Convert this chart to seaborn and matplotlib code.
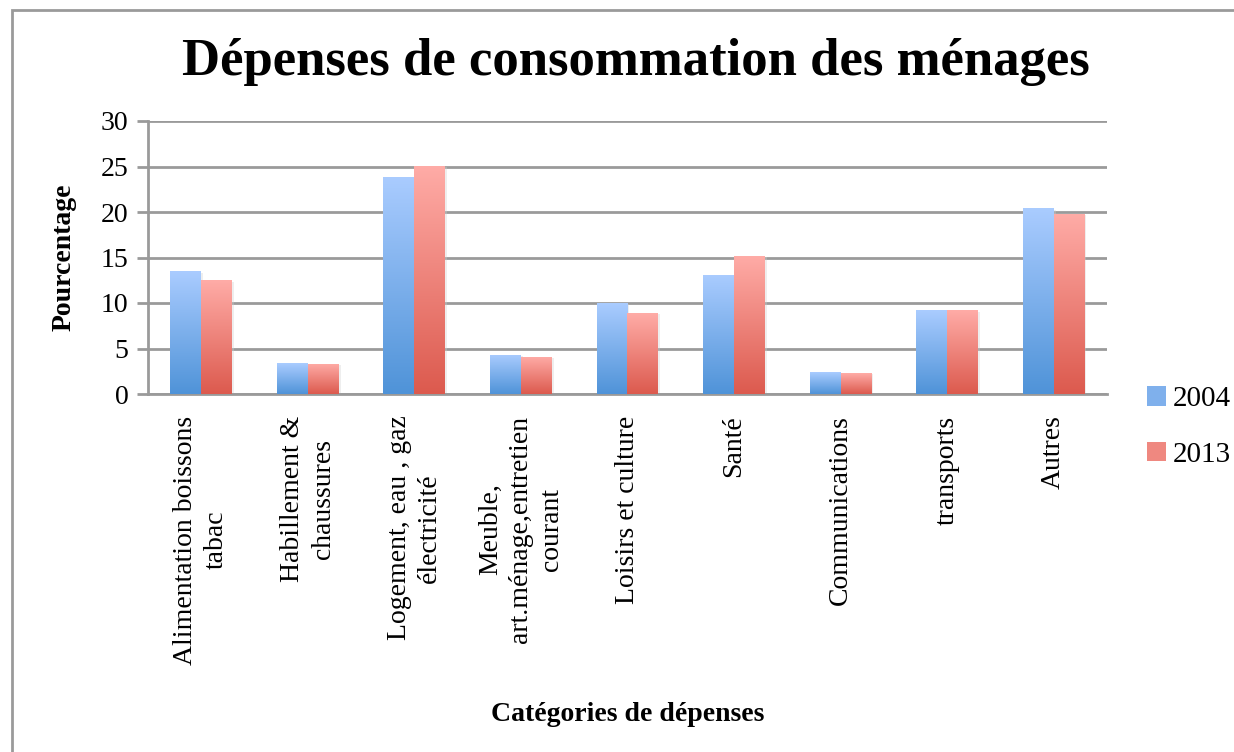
import matplotlib.pyplot as plt
import matplotlib.patches as mpatches
import numpy as np
import pandas as pd
import seaborn as sns
from matplotlib.colors import LinearSegmentedColormap

categories = ['Alimentation boissons\ntabac', 'Habillement &\nchaussures',
              'Logement, eau , gaz\nélectricité', 'Meuble,\nart.ménage,entretien\ncourant',
              'Loisirs et culture', 'Santé', 'Communications', 'transports', 'Autres']
values_2004 = [13.5, 3.4, 23.9, 4.3, 10.0, 13.1, 2.4, 9.2, 20.4]
values_2013 = [12.5, 3.3, 25.1, 4.1, 8.9, 15.2, 2.3, 9.2, 19.8]
years = ['2004', '2013']

df = pd.DataFrame({'cat': categories * 2,
                   'year': [years[0]] * 9 + [years[1]] * 9,
                   'value': values_2004 + values_2013})

sns.set_style('white')
plt.rcParams['font.family'] = ['Liberation Serif', 'DejaVu Serif']
plt.rcParams['text.color'] = 'black'
plt.rcParams['axes.labelcolor'] = 'black'
plt.rcParams['xtick.color'] = 'black'
plt.rcParams['ytick.color'] = 'black'

fig = plt.figure(figsize=(12.34, 7.52), dpi=100)
ax = fig.add_axes([148 / 1234, 1 - 394 / 752, (1107 - 148) / 1234, (394 - 121) / 752])

grads = {'2004': ('#4F93D8', '#AACCFF'), '2013': ('#DC5A4E', '#FFACA7')}
solid = {'2004': '#7FB0EC', '2013': '#EF8880'}
sns.barplot(data=df, x='cat', y='value', hue='year', palette=solid, width=0.58,
            saturation=1, ax=ax, legend=False, zorder=3)

# gradient fill on each bar
grad = np.linspace(0, 1, 256).reshape(-1, 1)
for cont, yr in zip(ax.containers, years):
    cmap = LinearSegmentedColormap.from_list(yr, grads[yr])
    for p in cont.patches:
        x0, y0 = p.get_x(), p.get_y()
        w, h = p.get_width(), p.get_height()
        # soft shadow
        sh = mpatches.Rectangle((x0 + w * 0.06, y0), w, h - 0.15, color='#d0d0d0',
                                alpha=0.35, zorder=2, lw=0)
        ax.add_patch(sh)
        p.set_facecolor('none')
        p.set_edgecolor('none')
        im = ax.imshow(grad, extent=[x0, x0 + w, y0, y0 + h], origin='lower',
                       aspect='auto', cmap=cmap, zorder=3)
        im.set_clip_path(p)

ax.set_xlim(-0.5, 8.5)
ax.set_ylim(0, 30)
ax.set_yticks(range(0, 31, 5))
ax.yaxis.grid(True, color='#9a9a9a', lw=2)
ax.set_axisbelow(True)
for s in ['top', 'right']:
    ax.spines[s].set_visible(False)
ax.spines['left'].set_color('#9a9a9a')
ax.spines['left'].set_linewidth(2)
ax.spines['bottom'].set_color('#9a9a9a')
ax.spines['bottom'].set_linewidth(2)
ax.tick_params(axis='y', left=True, length=8, width=2, color='#9a9a9a', labelsize=20, pad=6)
ax.tick_params(axis='x', bottom=False, labelsize=20, pad=12)
ax.set_xticks(range(9))
ax.set_xticklabels(categories, rotation=90, ha='center', va='top', multialignment='center',
                   linespacing=1.3)

ax.set_xlabel('Catégories de dépenses', fontsize=20, fontweight='bold', labelpad=0)
ax.xaxis.set_label_coords(0.5, -1.13)
ax.set_ylabel('Pourcentage', fontsize=20, fontweight='bold')
ax.yaxis.set_label_coords(-0.075, 0.5)

fig.text(0.515, 1 - 62 / 752, 'Dépenses de consommation des ménages', ha='center',
         va='center', fontsize=38, fontweight='bold')

# legend
handles = [mpatches.Patch(facecolor=solid[y], edgecolor='none') for y in years]
fig.legend(handles, years, loc='center left', bbox_to_anchor=(1147 / 1234, 1 - 427 / 752),
           frameon=False, fontsize=21, handlelength=0.65, handleheight=0.65,
           handletextpad=0.25, labelspacing=1.0, borderpad=0, borderaxespad=0)

fig.add_artist(mpatches.Rectangle((12 / 1234, -0.01), 1.0, 1 - 10 / 752 + 0.01,
                                  transform=fig.transFigure, fill=False,
                                  edgecolor='#9a9a9a', lw=2))

fig.savefig('out.png', dpi=100)
